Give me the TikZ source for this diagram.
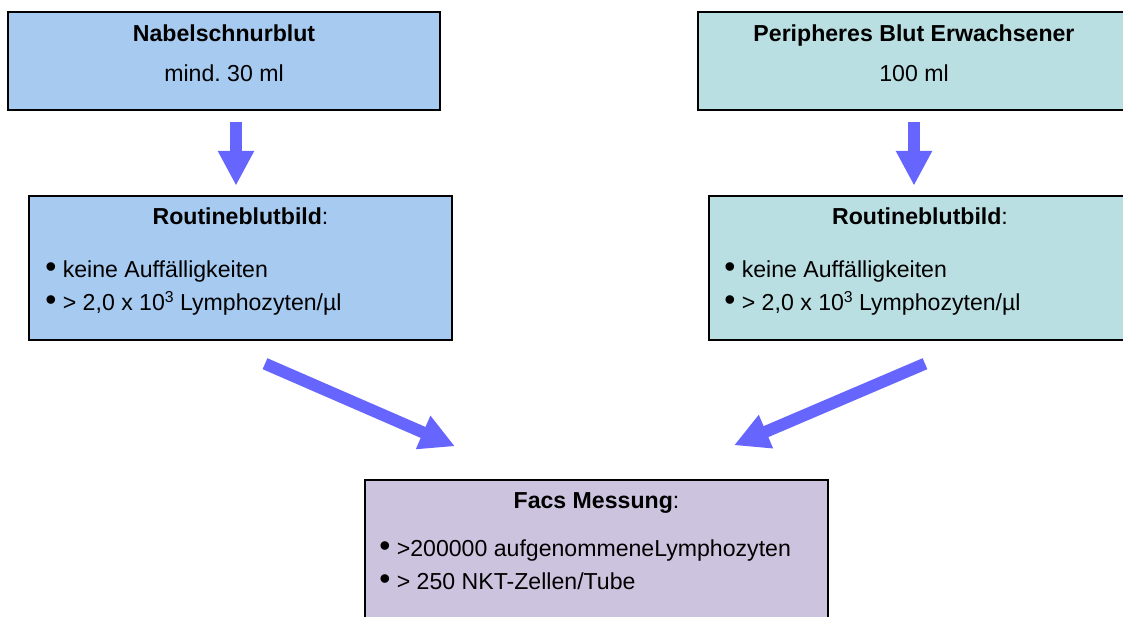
\documentclass[tikz,border=0pt]{standalone}
\usepackage{fontspec}
\setmainfont{Liberation Sans}
\usepackage{tikz}
\usetikzlibrary{calc, fit, positioning, arrows.meta}

\definecolor{nabelblue}{HTML}{A6CAF0}
\definecolor{adultteal}{HTML}{BADFE2}
\definecolor{facslila}{HTML}{CCC3DE}
\definecolor{flowblue}{HTML}{6666FF}

\newcommand{\bulletdot}{{\fontsize{18pt}{18pt}\selectfont\textbullet}\ }
\newcommand{\supthree}{\raisebox{5.1pt}{\fontsize{9pt}{9pt}\selectfont 3}}

\tikzset{
	box/.style={draw=black, line width=0.8pt, inner sep=0pt},
	txt/.style={inner sep=0pt, anchor=base, font=\fontsize{13.15pt}{16pt}\selectfont\frenchspacing},
	bul/.style={txt, anchor=base west},
	flow/.style={draw=flowblue, line width=6.8pt, -{Triangle[length=19.8pt, width=19.3pt]}}
}

\begin{document}
\begin{tikzpicture}[x=0.02cm, y=-0.02cm]

			\clip (0,0) rectangle (1123,617);

			% boxes
			\node [box, fill=nabelblue, fit={(8,12) (440,110)}] (nabel) {};
			\node [box, fill=adultteal, fit={(698,12) (1130,110)}] (periph) {};
			\node [box, fill=nabelblue, fit={(29,196) (452,340)}] (routL) {};
			\node [box, fill=adultteal, fit={(709,196) (1131,340)}] (routR) {};
			\node [box, fill=facslila, fit={(365,480) (828,640)}] (facs) {};

			% top texts
			\node [txt] (nabelT) at (224,41.5) {\textbf{Nabelschnurblut}};
			\node [txt] (nabelS) at (224,81.5) {mind. 30 ml};
			\node [txt] (periphT) at (914,41.5) {\textbf{Peripheres Blut Erwachsener}};
			\node [txt] (periphS) at (914,81.5) {100 ml};

			% routine blood count, both sides
			\foreach \bx/\lx in {routL/45, routR/724}
			{
				\node [txt] (\bx T) at ($(\bx.north)+(0,29.5)$) {\textbf{Routineblutbild}:};
				\node [bul] (\bx A) at (\lx,278) {\bulletdot keine Auffälligkeiten};
				\node [bul] (\bx B) at (\lx,311) {\bulletdot > 2,0 x 10\supthree{} Lymphozyten/µl};
			}

			% facs
			\node [txt] (facsT) at (596.5,509) {\textbf{Facs Messung}:};
			\node [bul] (facsA) at (379,556.5) {\bulletdot >200000 aufgenommeneLymphozyten};
			\node [bul] (facsB) at (379,590) {\bulletdot > 250 NKT-Zellen/Tube};

			% arrows
			\draw [flow] ($(nabel.south)+(12,11)$) -- ($(nabel.south)+(12,75)$);
			\draw [flow] ($(periph.south)+(0,11)$) -- ($(periph.south)+(0,75)$);
			\draw [flow] ($(routL.south)+(24.5,23)$) -- ($(facs.north)+(-141.5,-33)$);
			\draw [flow] ($(routR.south)+(5,23)$) -- ($(facs.north)+(137.5,-34)$);

\end{tikzpicture}
\end{document}
